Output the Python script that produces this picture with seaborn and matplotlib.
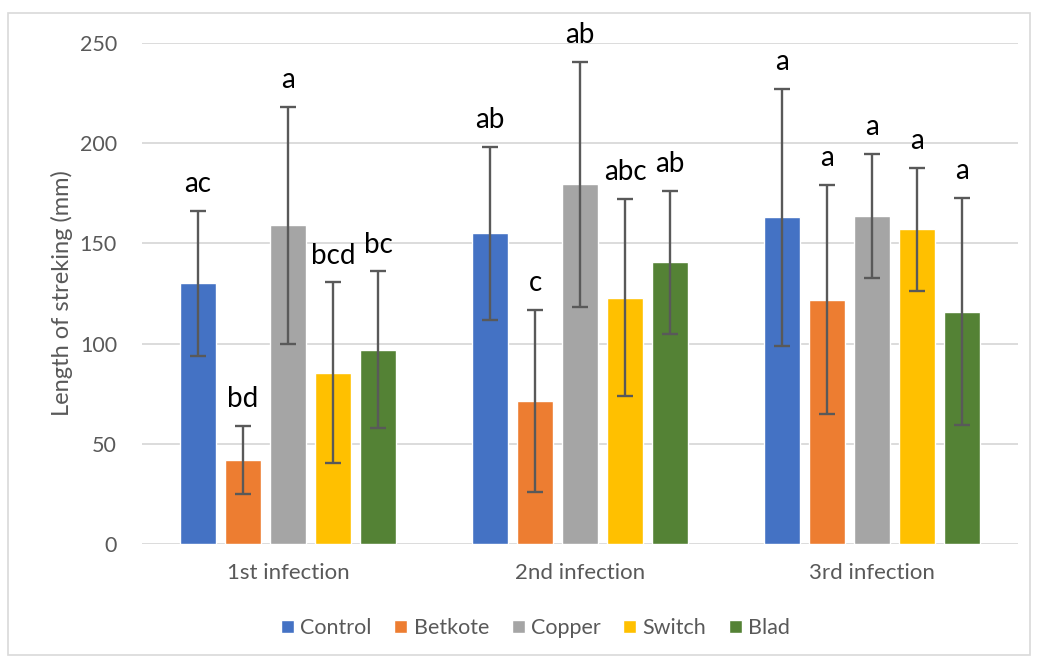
import seaborn as sns
import matplotlib.pyplot as plt
import pandas as pd
from matplotlib.patches import Rectangle

infections = ['1st infection', '2nd infection', '3rd infection']
treatments = ['Control', 'Betkote', 'Copper', 'Switch', 'Blad']
colors = ['#4472C4', '#ED7D31', '#A5A5A5', '#FFC000', '#548235']

# mean length per infection
control = [130, 155, 163]
betkote = [42, 71.5, 122]
copper = [159, 179.5, 163.5]
switch = [85.5, 123, 157]
blad = [97, 140.5, 116]

# error bar half-widths
control_err = [36, 43, 64]
betkote_err = [17, 45.5, 57]
copper_err = [59, 61, 31]
switch_err = [45, 49, 30.5]
blad_err = [39, 35.5, 56.5]

# significance letters
control_lab = ['ac', 'ab', 'a']
betkote_lab = ['bd', 'c', 'a']
copper_lab = ['a', 'ab', 'a']
switch_lab = ['bcd', 'abc', 'a']
blad_lab = ['bc', 'ab', 'a']

means = [control, betkote, copper, switch, blad]
errs = [control_err, betkote_err, copper_err, switch_err, blad_err]
labs = [control_lab, betkote_lab, copper_lab, switch_lab, blad_lab]

rows = []
for t, vals in zip(treatments, means):
    for inf, v in zip(infections, vals):
        rows.append({'infection': inf, 'treatment': t, 'length': v})
df = pd.DataFrame(rows)

sns.set_style('white')
plt.rcParams['font.family'] = ['Lato', 'DejaVu Sans']

fig = plt.figure(figsize=(10.38, 6.59), dpi=100)
ax = fig.add_axes([0.1368, 0.1745, 0.844, 0.7602])

sns.barplot(data=df, x='infection', y='length', hue='treatment',
            hue_order=treatments, palette=colors, width=0.77, gap=0.2,
            errorbar=None, saturation=1, ax=ax)

for cont, e, lb in zip(ax.containers, errs, labs):
    xs = [p.get_x() + p.get_width() / 2 for p in cont]
    ys = [p.get_height() for p in cont]
    ax.errorbar(xs, ys, yerr=e, fmt='none', ecolor='#595959',
                elinewidth=1.7, capsize=6, capthick=1.7, zorder=3)
    for x, y, err, s in zip(xs, ys, e, lb):
        ax.annotate(s, (x, y + err), xytext=(0, 10), textcoords='offset points',
                    ha='center', va='bottom', fontsize=20, color='black')

ax.set_ylim(0, 250)
ax.set_yticks([0, 50, 100, 150, 200, 250])
ax.set_xlim(-0.5, 2.5)
ax.yaxis.grid(True, color='#D9D9D9', linewidth=1.3)
ax.set_axisbelow(True)
for s in ax.spines.values():
    s.set_visible(False)
ax.tick_params(axis='y', length=0, pad=18, labelsize=15.5, labelcolor='#595959')
ax.tick_params(axis='x', length=0, pad=14, labelsize=16, labelcolor='#595959')
ax.set_xlabel('')
ax.set_ylabel('Length of streking (mm)', fontsize=17, color='#595959', labelpad=5)

handles, labels = ax.get_legend_handles_labels()
ax.get_legend().remove()
fig.legend(handles, labels, loc='center', bbox_to_anchor=(0.516, 0.047),
           ncol=5, frameon=False, fontsize=15.5, labelcolor='#595959',
           handlelength=0.6, handleheight=0.6, handletextpad=0.3,
           columnspacing=1.05)

fig.patches.append(Rectangle((0.0077, 0.006), 0.9846, 0.974, transform=fig.transFigure,
                             fill=False, edgecolor='#D9D9D9', linewidth=1.2))

plt.savefig('out.png', dpi=100)
